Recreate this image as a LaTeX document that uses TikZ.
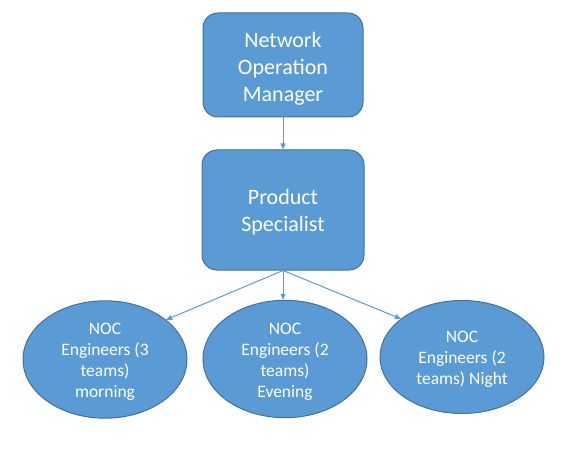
\documentclass[tikz,border=0pt]{standalone}
\usepackage{fontspec}
\setmainfont{Carlito}
\usetikzlibrary{shapes.geometric,arrows.meta}
\definecolor{offblue}{HTML}{5B9BD5}
\definecolor{offedge}{HTML}{41719C}
\newcommand{\topgap}[1]{\rule{0pt}{#1}}
\tikzset{
  rbox/.style={draw=offedge, line width=1pt, fill=offblue, rounded corners=15pt,
    text=white, align=center, inner sep=0pt,
    font=\fontsize{22}{27}\selectfont},
  oval/.style={ellipse, draw=offedge, line width=1pt, fill=offblue,
    text=white, align=center, inner sep=0pt,
    minimum width=164pt, minimum height=113pt,
    font=\fontsize{17.5}{21}\selectfont},
  arr/.style={draw=offblue, line width=1pt, -{Triangle[length=6pt,width=5pt]}}
}
\begin{document}
\begin{tikzpicture}[x=1pt,y=-1pt]
\useasboundingbox (0,0) rectangle (567,465);
\node[rbox, minimum width=160pt, minimum height=104pt] (nom) at (283,65)
  {\topgap{22pt}Network\\Operation\\Manager};
\node[rbox, minimum width=162pt, minimum height=120pt] (ps) at (283,210)
  {\topgap{20pt}Product\\Specialist};
\node[oval] (e1) at (105,359.5) {\topgap{17pt}NOC\\Engineers (3\\teams)\\morning};
\node[oval] (e2) at (285,359) {\topgap{17pt}NOC\\Engineers (2\\teams)\\Evening};
\node[oval] (e3) at (462,357) {\topgap{17pt}NOC\\Engineers (2\\teams) Night};
\draw[arr] (nom.south) -- (ps.north);
\draw[arr] (ps.south) -- (e1.33);
\draw[arr] (ps.south) -- (ps.south |- e2.north);
\draw[arr] (ps.south) -- (e3.148);
\end{tikzpicture}
\end{document}
